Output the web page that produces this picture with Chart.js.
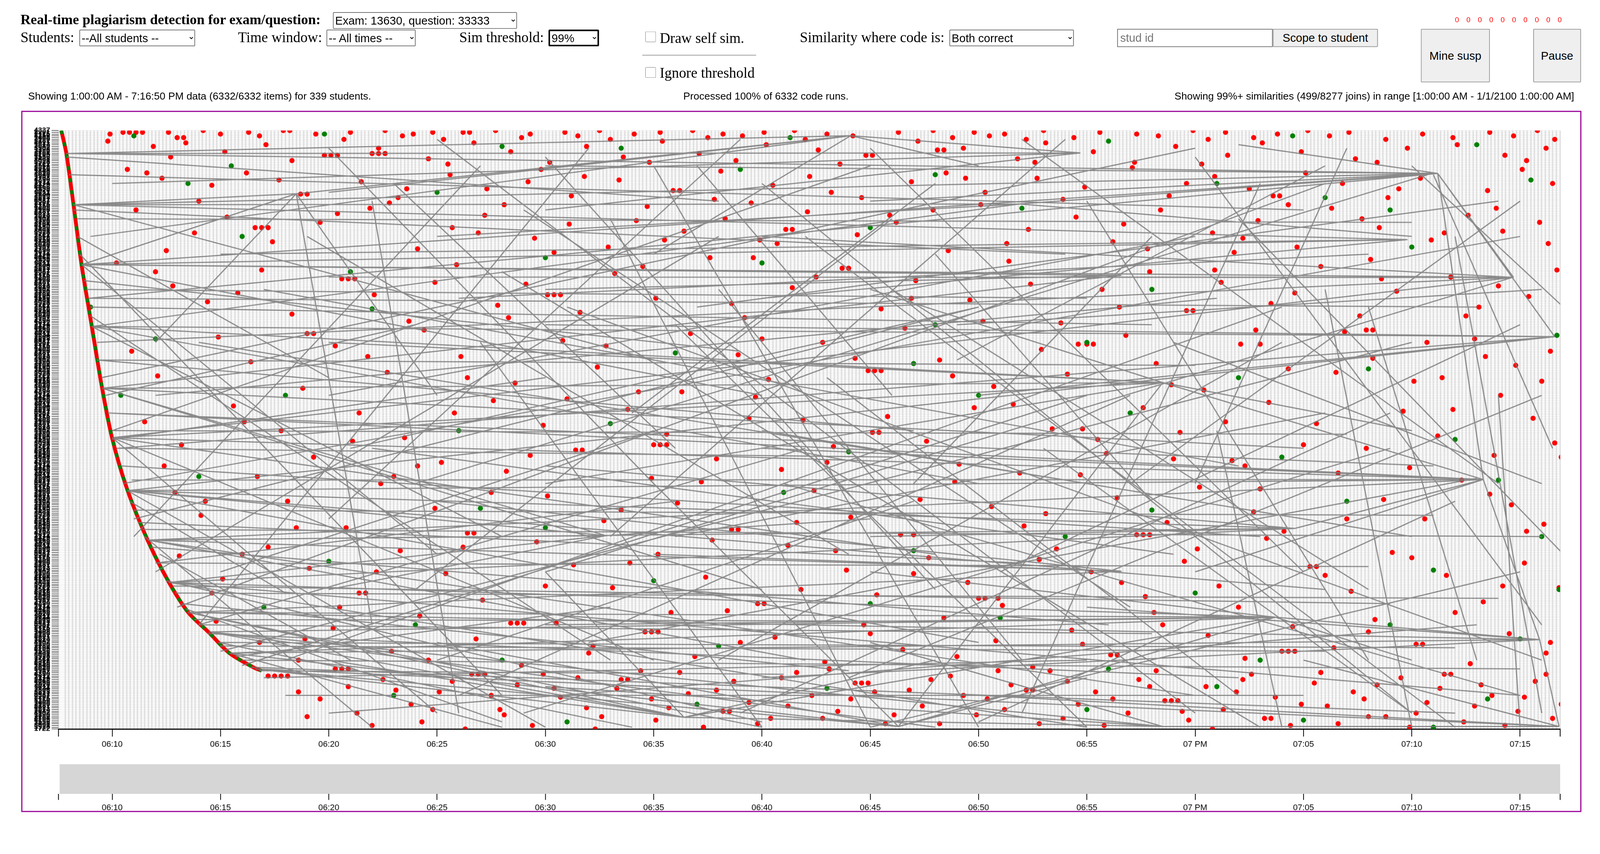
<!DOCTYPE html>
<html><head><meta charset="utf-8">
<script src="https://cdn.jsdelivr.net/npm/chart.js@4/dist/chart.umd.min.js"></script>
<style>
html,body{margin:0;padding:0;overflow:hidden;background:#fff}
#w{width:4215px;height:2187px;position:relative;font-family:'Liberation Serif',serif;transform-origin:0 0}
.a{position:absolute;white-space:nowrap}
select,input,button{font-family:'Liberation Sans',sans-serif;font-size:30px;box-sizing:border-box}
select{background:#fff;border:2px solid #767676;border-radius:3px}
button{background:#efefef;border:2px solid #999;border-radius:3px}
.lbl{font-size:38px}
.st{font-family:'Liberation Sans',sans-serif;font-size:27px}
input[type=checkbox]{width:28px;height:28px;margin:0}
</style></head><body><div id="w">
<div class="a" style="left:54px;top:30px;font-size:37px;font-weight:bold">Real-time plagiarism detection for exam/question:</div>
<select class="a" style="left:877px;top:32px;width:485px;height:44px"><option>Exam: 13630, question: 33333</option></select>
<div class="a lbl" style="left:54px;top:76px">Students:</div>
<select class="a" style="left:209px;top:78px;width:305px;height:44px"><option>--All students --</option></select>
<div class="a lbl" style="left:627px;top:76px">Time window:</div>
<select class="a" style="left:860px;top:78px;width:235px;height:44px"><option>-- All times --</option></select>
<div class="a lbl" style="left:1210px;top:76px">Sim threshold:</div>
<select class="a" style="left:1445px;top:78px;width:133px;height:44px;border:4px solid #000"><option>99%</option></select>
<input type="checkbox" class="a" style="left:1700px;top:83px">
<div class="a lbl" style="left:1738px;top:78px">Draw self sim.</div>
<div class="a" style="left:1692px;top:144px;width:300px;height:3px;background:#bbb"></div>
<input type="checkbox" class="a" style="left:1700px;top:177px">
<div class="a lbl" style="left:1738px;top:170px">Ignore threshold</div>
<div class="a lbl" style="left:2107px;top:76px">Similarity where code is:</div>
<select class="a" style="left:2501px;top:78px;width:328px;height:44px"><option>Both correct</option></select>
<input class="a" placeholder="stud id" style="left:2943px;top:76px;width:410px;height:48px;border:2px solid #767676;padding-left:6px">
<button class="a" style="left:3353px;top:76px;width:277px;height:48px">Scope to student</button>
<div class="a" style="left:3833px;top:42px;font-family:'Liberation Sans';font-size:19px;color:#f00;letter-spacing:19.5px">0000000000</div>
<button class="a" style="left:3743px;top:76px;width:182px;height:141px">Mine susp</button>
<button class="a" style="left:4039px;top:76px;width:126px;height:141px">Pause</button>
<div class="a st" style="left:74px;top:238px">Showing 1:00:00 AM - 7:16:50 PM data (6332/6332 items) for 339 students.</div>
<div class="a st" style="left:1800px;top:238px">Processed 100% of 6332 code runs.</div>
<div class="a st" style="right:68px;top:238px">Showing 99%+ similarities (499/8277 joins) in range [1:00:00 AM - 1/1/2100 1:00:00 AM]</div>
<div class="a" style="left:56px;top:292px;width:4110px;height:1848px;border:3px solid #990099;box-sizing:border-box"></div>
<div class="a" style="left:60px;top:300px;width:4105px;height:1690px"><canvas id="c1"></canvas></div>
<div class="a" style="left:60px;top:2005px;width:4105px;height:133px"><canvas id="c2"></canvas></div>
</div>
<script>
const sc=window.innerWidth/4215; if(Math.abs(sc-1)>0.005) document.getElementById('w').style.transform='scale('+sc+')';
// x = minutes after 06:00, y = student row (0 = top)
const studentIds=["4337","2201","2715","3356","1408","2996","3187","4021","1873","2649","3502","1190","2280","3764","4105","1556","2438","3091","3920","1722","2567","3318","4255","1345","2899","3640","1987","2753","4390","1612","2174","3429","4468","1259","2820","3711","1934","2506","3873","4421"];
const curveTimes=[[7.65,0],[7.88,12.7],[8.21,41.6],[8.59,76.3],[9.06,111],[9.53,145.6],[10,174.4],[10.7,203.5],[11.65,232.4],[12.6,255.5],[13.5,272.8],[14.47,284.4],[15.41,296],[16.6,304.6],[16.9,306]];
const redPts=[[10.5,1],[10.8,1],[11.1,1],[11.4,1],[12.6,1],[14.2,0],[15.0,2],[16.3,1],[17.9,0],[18.2,0],[19.4,2],[21.0,1],[22.6,0],[23.9,2],[24.8,1],[26.2,1],[26.5,1],[27.7,0],[29.3,2],[30.9,1],[32.5,0],[34.1,2],[35.3,1],[36.8,0],[38.2,2],[40.1,1],[41.5,0],[43.0,2],[46.3,1],[47.9,0],[49.8,1],[51.2,2],[53.0,0],[55.6,1],[57.3,2],[59.9,0],[61.4,1],[63.8,2],[65.2,0],[67.1,1],[70.5,2],[73.6,1],[75.8,0],
[9.8,6],[11.9,9],[13.4,7],[15.2,12],[17.1,8],[19.8,14],[20.1,14],[20.4,14],[22.3,10],[24.6,16],[26.7,7],[28.4,12],[30.2,18],[31.9,9],[33.6,15],[35.4,6],[37.1,13],[38.8,17],[40.2,8],[42.6,11],[44.8,14],[45.1,14],[47.2,6],[49.3,10],[51.8,16],[53.1,7],[55.3,12],[57.2,18],[59.1,9],[61.5,14],[63.1,7],[64.9,12],[67.4,16],[69.8,10],[72.1,8],[74.3,14],[76.2,10],
[10.7,22],[12.3,27],[14.6,31],[16.2,24],[18.7,36],[19.0,36],[21.5,29],[23.2,38],[25.6,25],[27.3,33],[29.8,22],[31.2,37],[33.4,28],[35.9,34],[36.2,34],[38.1,23],[40.5,31],[42.2,26],[44.6,38],[46.9,29],[48.5,24],[50.3,35],[52.7,27],[54.9,32],[57.1,21],[58.8,37],[60.9,26],[62.5,33],[65.1,24],[66.8,30],[68.9,38],[70.4,27],[73.5,34],[75.1,22],[76.5,30],
[11.1,45],[13.8,58],[15.3,49],[17.4,63],[19.6,52],[21.9,44],[24.1,67],[25.7,55],[27.2,48],[29.5,61],[31.1,53],[32.9,66],[34.7,43],[36.4,57],[38.3,50],[40.7,64],[42.1,46],[44.4,59],[46.2,52],[48.6,68],[50.1,42],[52.3,56],[54.5,49],[56.2,63],[58.4,45],[60.8,58],[62.9,51],[64.7,66],[66.3,44],[68.5,55],[70.9,62],[72.6,48],[74.2,57],[76.3,64],[12.5,68],[22.8,41],[30.4,69],[39.5,41],[47.9,45],[61.8,69],
[10.2,75],[12.8,88],[14.4,97],[16.9,79],[18.3,104],[20.6,84],[22.1,93],[23.7,108],[25.9,76],[27.8,99],[29.1,87],[31.6,103],[33.2,81],[35.1,95],[37.6,72],[39.2,106],[41.4,89],[43.7,78],[45.5,101],[47.1,85],[49.6,96],[51.4,74],[53.8,109],[55.7,90],[57.9,80],[59.6,102],[61.2,86],[63.5,98],[65.8,77],[67.6,105],[69.3,91],[71.8,83],[73.1,100],[75.4,94],[76.7,79],[20.9,84],[21.2,84],[44.0,78],[59.9,102],[68.1,73],
[10.9,125],[12.1,139],[14.9,117],[16.4,131],[18.8,146],[20.3,122],[22.7,137],[24.4,113],[26.1,128],[28.6,143],[30.8,119],[32.4,134],[34.3,148],[36.7,115],[38.9,127],[40.3,141],[42.8,120],[44.9,136],[46.6,112],[48.2,130],[50.7,145],[52.9,124],[54.1,138],[56.8,116],[58.2,132],[60.4,147],[62.1,121],[64.3,135],[66.9,114],[68.2,129],[70.1,142],[72.9,118],[74.8,133],[76.4,125],[45.2,136],[45.5,136],[63.0,121],[71.4,140],
[11.5,165],[13.2,178],[15.6,156],[17.8,170],[19.3,185],[21.4,160],[23.5,174],[25.2,188],[27.6,153],[29.9,167],[31.4,181],[33.8,158],[35.6,172],[37.9,186],[39.7,151],[41.9,164],[43.3,179],[45.8,162],[47.6,176],[49.1,189],[51.6,155],[53.4,169],[55.9,183],[57.6,157],[59.3,171],[61.7,187],[63.4,154],[65.6,166],[67.9,180],[69.6,159],[71.2,173],[73.8,184],[75.6,163],[76.6,177],[31.7,181],[54.8,169],[74.1,150],
[12.9,205],[14.1,218],[16.7,196],[18.1,210],[20.8,225],[22.4,200],[24.9,214],[26.4,228],[28.2,193],[30.1,207],[32.7,221],[34.9,197],[36.1,211],[38.6,226],[40.9,192],[42.4,204],[44.1,219],[46.4,229],[48.9,199],[50.6,213],[52.1,224],[54.7,195],[56.4,208],[58.7,222],[60.2,202],[62.7,216],[64.1,227],[66.6,194],[68.7,209],[70.6,220],[72.3,198],[74.6,212],[76.1,223],[26.7,228],[38.9,226],[47.0,229],
[13.1,241],[15.1,254],[17.2,236],[19.1,248],[21.7,262],[23.3,238],[25.4,251],[27.1,266],[29.6,233],[31.3,246],[33.1,259],[35.2,240],[37.4,253],[39.8,268],[41.2,235],[43.9,249],[45.3,263],[47.7,242],[49.5,256],[51.1,269],[53.6,237],[55.2,250],[57.7,264],[59.5,244],[61.1,258],[63.3,231],[65.3,247],[67.2,261],[69.1,239],[71.6,252],[73.3,267],[75.2,245],[76.8,259],[21.4,262],[40.1,268],[65.6,247],
[14.8,278],[16.8,290],[18.6,300],[20.2,282],[22.9,295],[24.2,275],[26.8,288],[28.9,303],[30.5,279],[32.2,292],[34.6,284],[36.9,298],[38.4,272],[40.6,287],[42.9,301],[44.7,280],[46.5,294],[48.4,276],[50.8,289],[52.5,304],[54.3,283],[56.1,297],[58.1,273],[60.6,286],[62.3,299],[64.5,281],[66.4,293],[68.3,277],[70.2,291],[72.7,302],[74.5,285],[76.2,296],[34.9,284],[35.2,284],[56.4,297],[70.5,291],
[17.2,309],[17.5,309],[17.8,309],[18.1,309],[19.6,322],[20.9,315],[21.3,330],[22.5,311],[23.8,325],[24.3,335],[25.1,318],[26.6,308],[27.9,328],[28.7,314],[29.4,337],[30.7,321],[31.5,310],[32.6,332],[33.3,316],[34.4,306],[35.7,327],[36.6,319],[37.3,338],[38.7,312],[39.4,324],[40.4,333],[41.6,307],[42.3,320],[43.5,329],[44.3,313],[45.7,336],[46.8,317],[47.4,326],[48.7,309],[49.9,331],[50.4,322],[51.5,314],[52.8,336],[53.3,306],[54.6,325],[55.4,318],[56.9,330],[57.4,311],[58.6,323],[59.7,334],[60.5,315],[61.3,328],[62.6,308],[63.7,321],[64.4,337],[65.5,313],[66.1,326],[67.3,318],[68.8,332],[69.5,310],[70.7,324],[71.3,316],[72.4,335],[73.7,320],[74.9,329],[75.7,312],[76.5,333],[26.9,308],[27.2,308],[44.6,313],[44.9,313],[58.9,323],[59.2,323],[68.0,332]];
const redPtsB=[[9.9,2],[13.0,4],[13.3,4],[16.8,3],[20.7,5],[23.4,3],[25.3,5],[28.9,4],[31.5,3],[33.0,5],[37.5,4],[39.1,3],[42.0,5],[44.2,3],[48.8,4],[50.5,3],[52.2,5],[54.4,4],[58.3,3],[60.6,5],[62.7,4],[66.2,3],[68.8,5],[71.9,4],[74.7,3],[76.6,5],[12.7,15],[18.3,17],[25.5,19],[34.8,18],[43.6,19],[52.6,18],[60.3,19],[68.4,18],[75.3,17],[22.0,13],[22.3,13],[22.6,13],[48.1,11],[48.4,11],
[11.6,24],[14.0,40],[17.7,28],[20.4,47],[23.6,33],[26.9,58],[28.1,42],[31.8,26],[34.2,51],[37.8,39],[39.9,62],[43.2,35],[45.9,48],[49.4,27],[51.3,64],[53.9,39],[56.7,53],[59.6,30],[62.2,61],[64.3,42],[67.7,50],[69.4,33],[71.5,58],[73.9,44],[75.9,52],[16.6,55],[16.9,55],[17.2,55],[41.1,56],[41.4,56],[63.6,37],[63.9,37],[29.2,29],[57.8,67],[35.5,62],
[12.0,80],[15.8,92],[19.0,115],[21.8,128],[24.9,86],[26.4,140],[28.3,106],[30.1,93],[32.8,122],[34.5,77],[36.3,148],[38.6,98],[40.0,118],[42.5,83],[44.3,129],[46.9,95],[48.8,139],[50.2,108],[52.4,87],[54.6,121],[56.5,100],[58.9,144],[60.9,79],[62.8,113],[64.6,92],[66.5,137],[68.6,84],[70.7,120],[72.5,105],[74.0,88],[76.0,142],[30.4,93],[30.7,93],[55.0,121],[55.3,121],[67.9,113],[68.2,113],[19.3,115],[39.6,72],[73.4,128],
[12.4,190],[14.3,210],[16.1,165],[18.5,225],[21.1,176],[23.0,196],[25.8,160],[27.5,205],[29.3,184],[31.0,152],[33.5,215],[35.0,178],[37.2,199],[39.4,163],[41.6,222],[43.0,188],[45.1,171],[47.3,209],[49.8,157],[51.9,194],[53.1,217],[55.5,175],[57.3,229],[59.0,186],[61.4,165],[63.0,203],[65.0,178],[67.0,220],[69.9,191],[71.9,158],[73.6,206],[75.3,227],[76.9,185],[35.3,178],[35.6,178],[57.6,229],[57.9,229],[45.4,171],[24.1,190],[62.3,190],
[14.6,262],[16.0,240],[18.9,288],[20.5,270],[22.2,250],[24.6,300],[26.2,236],[28.4,279],[30.0,258],[32.0,296],[33.9,245],[35.8,273],[37.7,232],[39.0,290],[41.8,260],[43.4,238],[45.0,285],[47.0,251],[49.0,298],[50.9,265],[52.8,243],[54.8,291],[56.6,256],[58.5,280],[60.1,237],[62.0,270],[64.0,295],[66.0,252],[68.0,284],[70.0,242],[72.0,273],[74.2,258],[76.4,290],[28.7,279],[29.0,279],[50.0,265],[50.3,265],[64.3,295],[64.6,295],
[18.6,318],[19.0,332],[20.3,305],[22.0,337],[23.1,317],[24.8,328],[25.7,312],[26.3,339],[27.5,320],[28.1,331],[29.9,308],[30.4,316],[31.9,327],[32.3,339],[33.8,311],[34.9,322],[35.1,334],[36.2,307],[37.9,317],[38.2,329],[39.8,336],[40.9,310],[41.2,326],[42.8,333],[43.1,305],[44.1,322],[45.2,318],[46.1,331],[47.8,311],[48.2,336],[49.3,320],[50.9,306],[51.2,328],[52.2,317],[53.9,333],[54.1,312],[55.8,337],[56.2,322],[57.9,315],[58.2,306],[59.4,329],[60.8,339],[61.9,318],[62.2,311],[63.2,333],[64.9,325],[65.8,307],[66.6,336],[67.8,322],[68.4,314],[69.9,338],[70.2,330],[71.8,308],[72.9,326],[73.2,314],[74.3,337],[75.2,321],[76.2,308],[76.9,325],[20.6,305],[20.9,305],[33.5,311],[38.5,329],[52.5,317],[63.5,333],[71.5,308]];
const greenPts=[[11.0,3],[19.8,2],[28.0,9],[41.3,4],[56.0,6],[64.5,3],[73.0,8],[13.5,30],[25.0,35],[39.0,22],[52.0,44],[66.0,38],[75.5,28],[16.0,60],[30.0,72],[45.0,55],[58.0,90],[70.0,66],[12.0,118],[22.0,101],[36.0,126],[48.0,110],[62.0,140],[76.7,116],[18.0,150],[33.0,166],[44.0,182],[57.0,160],[72.0,175],[14.0,196],[27.0,214],[41.0,205],[54.0,230],[67.0,210],[74.0,198],[20.0,244],[35.0,255],[47.0,238],[60.0,262],[71.0,249],[24.0,280],[38.0,292],[51.0,276],[63.0,300],[75.0,288],[23.0,320],[31.0,335],[43.0,316],[55.0,328],[65.0,334],[73.5,322],[76.8,260],[9.0,100],[10.4,150],
[15.5,20],[33.5,10],[48,25],[61,30],[69,45],[21,80],[40,75],[55,120],[68,135],[26,170],[50,150],[64,185],[30,225],[58,215],[76,230],[17,270],[45,268],[69,280],[28,300],[56,305],[37,325],[61,315],[71,338],[47,132]];
const linkFrom=[[71.2,24.3],[71.2,24.3],[71.2,24.3],[71.2,24.3],[71.2,24.3],[71.2,24.3],[71.2,24.3],[71.2,24.3],[71.2,24.3],[71.2,24.3],[71.2,24.3],
[74.7,83.2],[74.7,83.2],[74.7,83.2],[74.7,83.2],[74.7,83.2],[74.7,83.2],
[76.6,116.8],[76.6,116.8],[76.6,116.8],[76.6,116.8],[76.6,116.8],
[73.3,197.7],[73.3,197.7],[73.3,197.7],[73.3,197.7],[73.3,197.7],[73.3,197.7],[73.3,197.7],[73.3,197.7],[73.3,197.7],[73.3,197.7],
[63.7,275.7],[63.7,275.7],[63.7,275.7],[63.7,275.7],[63.7,275.7],[63.7,275.7],[63.7,275.7],[63.7,275.7],[63.7,275.7],[63.7,275.7],
[44.1,2.9],[44.1,2.9],[44.1,2.9],[44.1,2.9],[44.1,2.9],[44.1,2.9],[44.1,2.9],
[18.5,35.8],[18.5,35.8],[18.5,35.8],[18.5,35.8],[18.5,35.8],
[36.4,332.4],[36.4,332.4],[36.4,332.4],[36.4,332.4],[36.4,332.4],[36.4,332.4],[36.4,332.4],
[46.3,337.6],[46.3,337.6],[46.3,337.6],[46.3,337.6],[46.3,337.6],[46.3,337.6],
[58.5,142.8],[58.5,142.8],[58.5,142.8],[58.5,142.8],[58.5,142.8],[58.5,142.8],[58.5,142.8],
[75.9,288.4],[75.9,288.4],[75.9,288.4],[75.9,288.4],[75.9,288.4],
[76.8,337.6],[76.8,337.6],[76.8,337.6],[76.8,337.6],
[58.5,337.6],[58.5,337.6],[58.5,337.6],
[51.9,41.6],[51.9,41.6],[51.9,41.6],[51.9,41.6],
[32.8,229.5],[32.8,229.5],[32.8,229.5],[32.8,229.5],[32.8,229.5],[32.8,229.5],
[64.6,225.4],[64.6,225.4],[64.6,225.4],[64.6,225.4],[64.6,225.4],
[54.7,12.7],[54.7,12.7],[54.7,12.7],
[56.6,249.7],[56.6,249.7],[56.6,249.7],[56.6,249.7],
[69.8,61.8],[69.8,61.8],[69.8,61.8],[69.8,61.8],
[56.6,82],[56.6,82],[56.6,82],
[10.9,198],[8.4,50],[16,300],[12,245],[10,170],[9.3,130],[11,215],[8.8,90],[15,290],[14,280],
[9.53,146],[10,174],[10.7,204],[9.06,111],[8.59,76],[11.65,232],[12.6,256],[13.5,273],[10,174],[10.7,204],[9.06,111],[9.53,146],[11.65,232],[8.59,76],[8.21,42],[14.47,284],[15.41,296],[12.6,256],[10.7,204],[10,174]];
const linkTo=[[7.88,13],[8.21,42],[8.59,76],[8.9,95],[30,20],[45,40],[51.9,41.6],[62,8],[74.7,83.2],[76.6,116.8],[73.3,197.7],
[8.59,76],[9.3,120],[10,174],[40,60],[55,83],[20,83],
[9.06,111],[10.3,180],[30,110],[50,150],[10.7,204],
[10,174],[10.7,204],[11.65,232],[9.8,160],[20,198],[40,180],[60,250],[58.5,142.8],[64.6,225.4],[75.9,288.4],
[12.6,256],[13.5,273],[14.47,284],[15.41,296],[30,280],[45,250],[36.4,332.4],[46.3,337.6],[70,300],[75.9,288.4],
[7.88,13],[9.0,60],[20,35],[18.5,35.8],[35,70],[50,20],[54.7,12.7],
[8.21,42],[8.59,76],[12,120],[25,150],[22,280],
[13.5,273],[14.47,284],[16.6,305],[20,300],[30,250],[48,300],[58.5,337.6],
[15.41,296],[16.6,305],[25,290],[35,200],[55,310],[58.5,142.8],
[9.06,111],[9.53,146],[10,174],[20,120],[30,200],[45,90],[70,170],
[13.5,273],[15.41,296],[40,310],[55,270],[76.8,337.6],
[16.6,305],[50,320],[65,300],[58.5,337.6],
[14.47,284],[30,315],[45,290],
[8.21,42],[9.06,111],[25,60],[70,60],
[9.53,146],[10.7,204],[11.65,232],[12.6,256],[20,260],[45,220],
[10.7,204],[11.65,232],[12.6,256],[30,190],[45,230],
[7.88,13],[10,30],[30,45],
[11.65,232],[13.5,273],[35,240],[25,210],
[8.21,42],[8.59,76],[15,70],[40,95],
[8.59,76],[9.53,146],[30,90],
[73.3,197.7],[70,52],[75,305],[68,247],[67,172],[60,133],[71,218],[55,95],[72,293],[58,285],
[40,260],[35,300],[50,290],[28,230],[40,150],[60,320],[55,338],[40,338],[25,330],[30,338],[50,200],[65,180],[42,300],[25,240],[35,130],[48,338],[28,338],[75,320],[66,260],[48,240]];
// extra joins: [x1, y1, x2, y2]
const linkQuads=[[10,170,45,20],[12,250,38,60],[9.5,140,60,10],[11,220,50,100],[14,280,42,180],[15,295,70,120],[13,270,66,30],[16,303,55,150],[10.5,200,75,60],[9,105,33,300],[8.5,70,28,320],[11.5,230,22,338],[12.5,255,40,335],[20,10,35,200],[25,5,60,330],[30,15,48,260],[22,40,26,330],[35,20,50,338],[40,30,70,330],[45,10,65,250],[52,5,74,200],[60,15,76,280],[28,80,63,338],[33,50,45,338],[38,90,52,300],[42,60,72,338],[48,70,58,210],[55,40,68,300],[62,50,77,240],[66,90,70,338],[20,150,60,60],[24,200,71,24],[30,250,74.7,83],[18,300,64,100],[26,320,57,150],[32,290,73,197],[39,330,69,160],[44,310,76,150],[50,335,72,210],[21,180,50,100],[27,120,40,338],[34,160,48,30],[36,110,55,338],[43,140,62,320],[49,130,66,20],[53,180,70,330],[57,200,75,40],[61,170,64,338],[68,100,73,300],[14,120,55,200],[17,90,62,190],[19,60,44,240],[23,30,36,180],[29,45,57,270],[31,100,76,300],[37,20,46,150],[41,200,75,320],[46,90,68,260],[51,250,75,110],[59,120,76,200],[10,175,30,140],[12,245,36,210],[9.3,130,47,170],[8.7,85,39,125],[11.8,236,56,280],[13.2,268,44,306],[15.7,298,33,270],[14.4,285,62,310],[16.4,304,72,330],[8.2,45,54,70],[8.0,25,65,45],[7.9,15,38,40],[9.8,160,71,190],[10.4,190,63,230],[11.2,222,52,245],[12.9,262,74,265],[13.8,277,50,278],[15.0,292,66,295],[16.8,306,41,308],[9.7,150,24,110],[8.4,60,20,140],[10.8,210,18,262],[12.2,240,21,300],[13.4,271,28,335],[14.9,290,34,338],[9.0,100,58,110],[8.9,95,73,100],[10.2,180,46,185],[11.4,226,76,230],[12.8,258,69,268],[70,20,77,100],[71,25,76.5,180],[72,60,76,330],[74,150,75,338],[67,10,60,200],[63,30,52,330],[58,60,47,200],[54,5,33,230],[46,50,24,260],[39,5,20,220],[32,10,14,280],[27,20,11,230],[64,120,38,300],[69,180,29,330],[75,250,45,338],[73,280,20,330],[65,320,18,320],[55,300,17,310],[47,210,25,300],[35,170,15,250],[59,240,22,180],[66,160,36,230],[70,230,40,170],[76,90,49,110],[74,40,37,100],[68,70,26,95],[61,95,12,150]];

const xMin=7.52, xMax=76.85, rows=339;
function fmt(v){const m=Math.round(v);if(m%5)return '';if(m===60)return '07 PM';const h=6+Math.floor(m/60),mm=m%60;return String(h).padStart(2,'0')+':'+String(mm).padStart(2,'0');}
const toXY=p=>({x:p[0],y:p[1]});
const segs=[];
linkFrom.forEach((a,i)=>{const b=linkTo[i];segs.push(toXY(a),toXY(b),{x:b[0],y:null});});
linkQuads.forEach(q=>{segs.push({x:q[0],y:q[1]},{x:q[2],y:q[3]},{x:q[2],y:null});});
const xTicks={stepSize:5,callback:fmt,color:'#000',font:{family:'Liberation Sans',size:22},padding:8,maxRotation:0,autoSkip:false};
Chart.defaults.animation=false;
new Chart(document.getElementById('c1'),{type:'scatter',data:{datasets:[
 {data:segs,showLine:true,borderColor:'rgba(120,120,120,0.85)',borderWidth:3,pointRadius:0,spanGaps:false,order:0},
 {data:curveTimes.map(toXY),showLine:true,borderColor:'#008000',borderWidth:9,borderDash:[10,22],pointRadius:0,tension:0.3,order:1},
 {data:curveTimes.map(toXY),showLine:true,borderColor:'#f00000',borderWidth:10,pointRadius:0,tension:0.3,order:2},
 {data:greenPts.map(toXY),backgroundColor:'#008000',borderWidth:0,pointRadius:6.8,order:3},
 {data:redPts.concat(redPtsB).map(toXY),backgroundColor:'#ff0000',borderWidth:0,pointRadius:6.8,order:4}
]},options:{responsive:true,maintainAspectRatio:false,animation:false,layout:{padding:{top:44,right:55,left:0,bottom:0}},
 plugins:{legend:{display:false},tooltip:{enabled:false}},
 scales:{
  xs:{type:'linear',position:'top',min:xMin,max:xMax,ticks:{display:false,stepSize:1/6},grid:{color:'#e4e4e4',lineWidth:4,drawTicks:false},border:{display:false},afterFit:s=>{s.height=0;}},
  x:{type:'linear',min:xMin,max:xMax,ticks:xTicks,grid:{drawOnChartArea:false,color:'#000',tickLength:20,lineWidth:2},border:{color:'#000',width:3,dash:[6,5]},afterFit:s=>{s.height=69;}},
  y:{type:'linear',reverse:true,min:0,max:rows,afterFit:s=>{s.width=94;},
   ticks:{stepSize:1,autoSkip:false,color:'#000',font:{family:'Liberation Sans',size:19,weight:'bold'},padding:4,callback:v=>studentIds[v%studentIds.length]},
   grid:{color:'rgba(200,200,200,0.35)',tickColor:'#333',tickLength:18,lineWidth:1.5},border:{display:false}}
 }}});
new Chart(document.getElementById('c2'),{type:'scatter',data:{datasets:[
 {data:[{x:xMin+0.05,y:1},{x:xMax,y:1}],showLine:true,fill:'origin',backgroundColor:'#d6d6d6',borderWidth:0,pointRadius:0}
]},options:{responsive:true,maintainAspectRatio:false,animation:false,layout:{padding:{top:9,right:55}},
 plugins:{legend:{display:false},tooltip:{enabled:false}},
 scales:{x:{type:'linear',min:xMin,max:xMax,ticks:xTicks,grid:{drawOnChartArea:false,color:'#000',tickLength:16,lineWidth:2},border:{display:false},afterFit:s=>{s.height=46;}},
  y:{min:0,max:1,ticks:{display:false},grid:{display:false},border:{display:false},afterFit:s=>{s.width=94;}}}}});
</script></body></html>
